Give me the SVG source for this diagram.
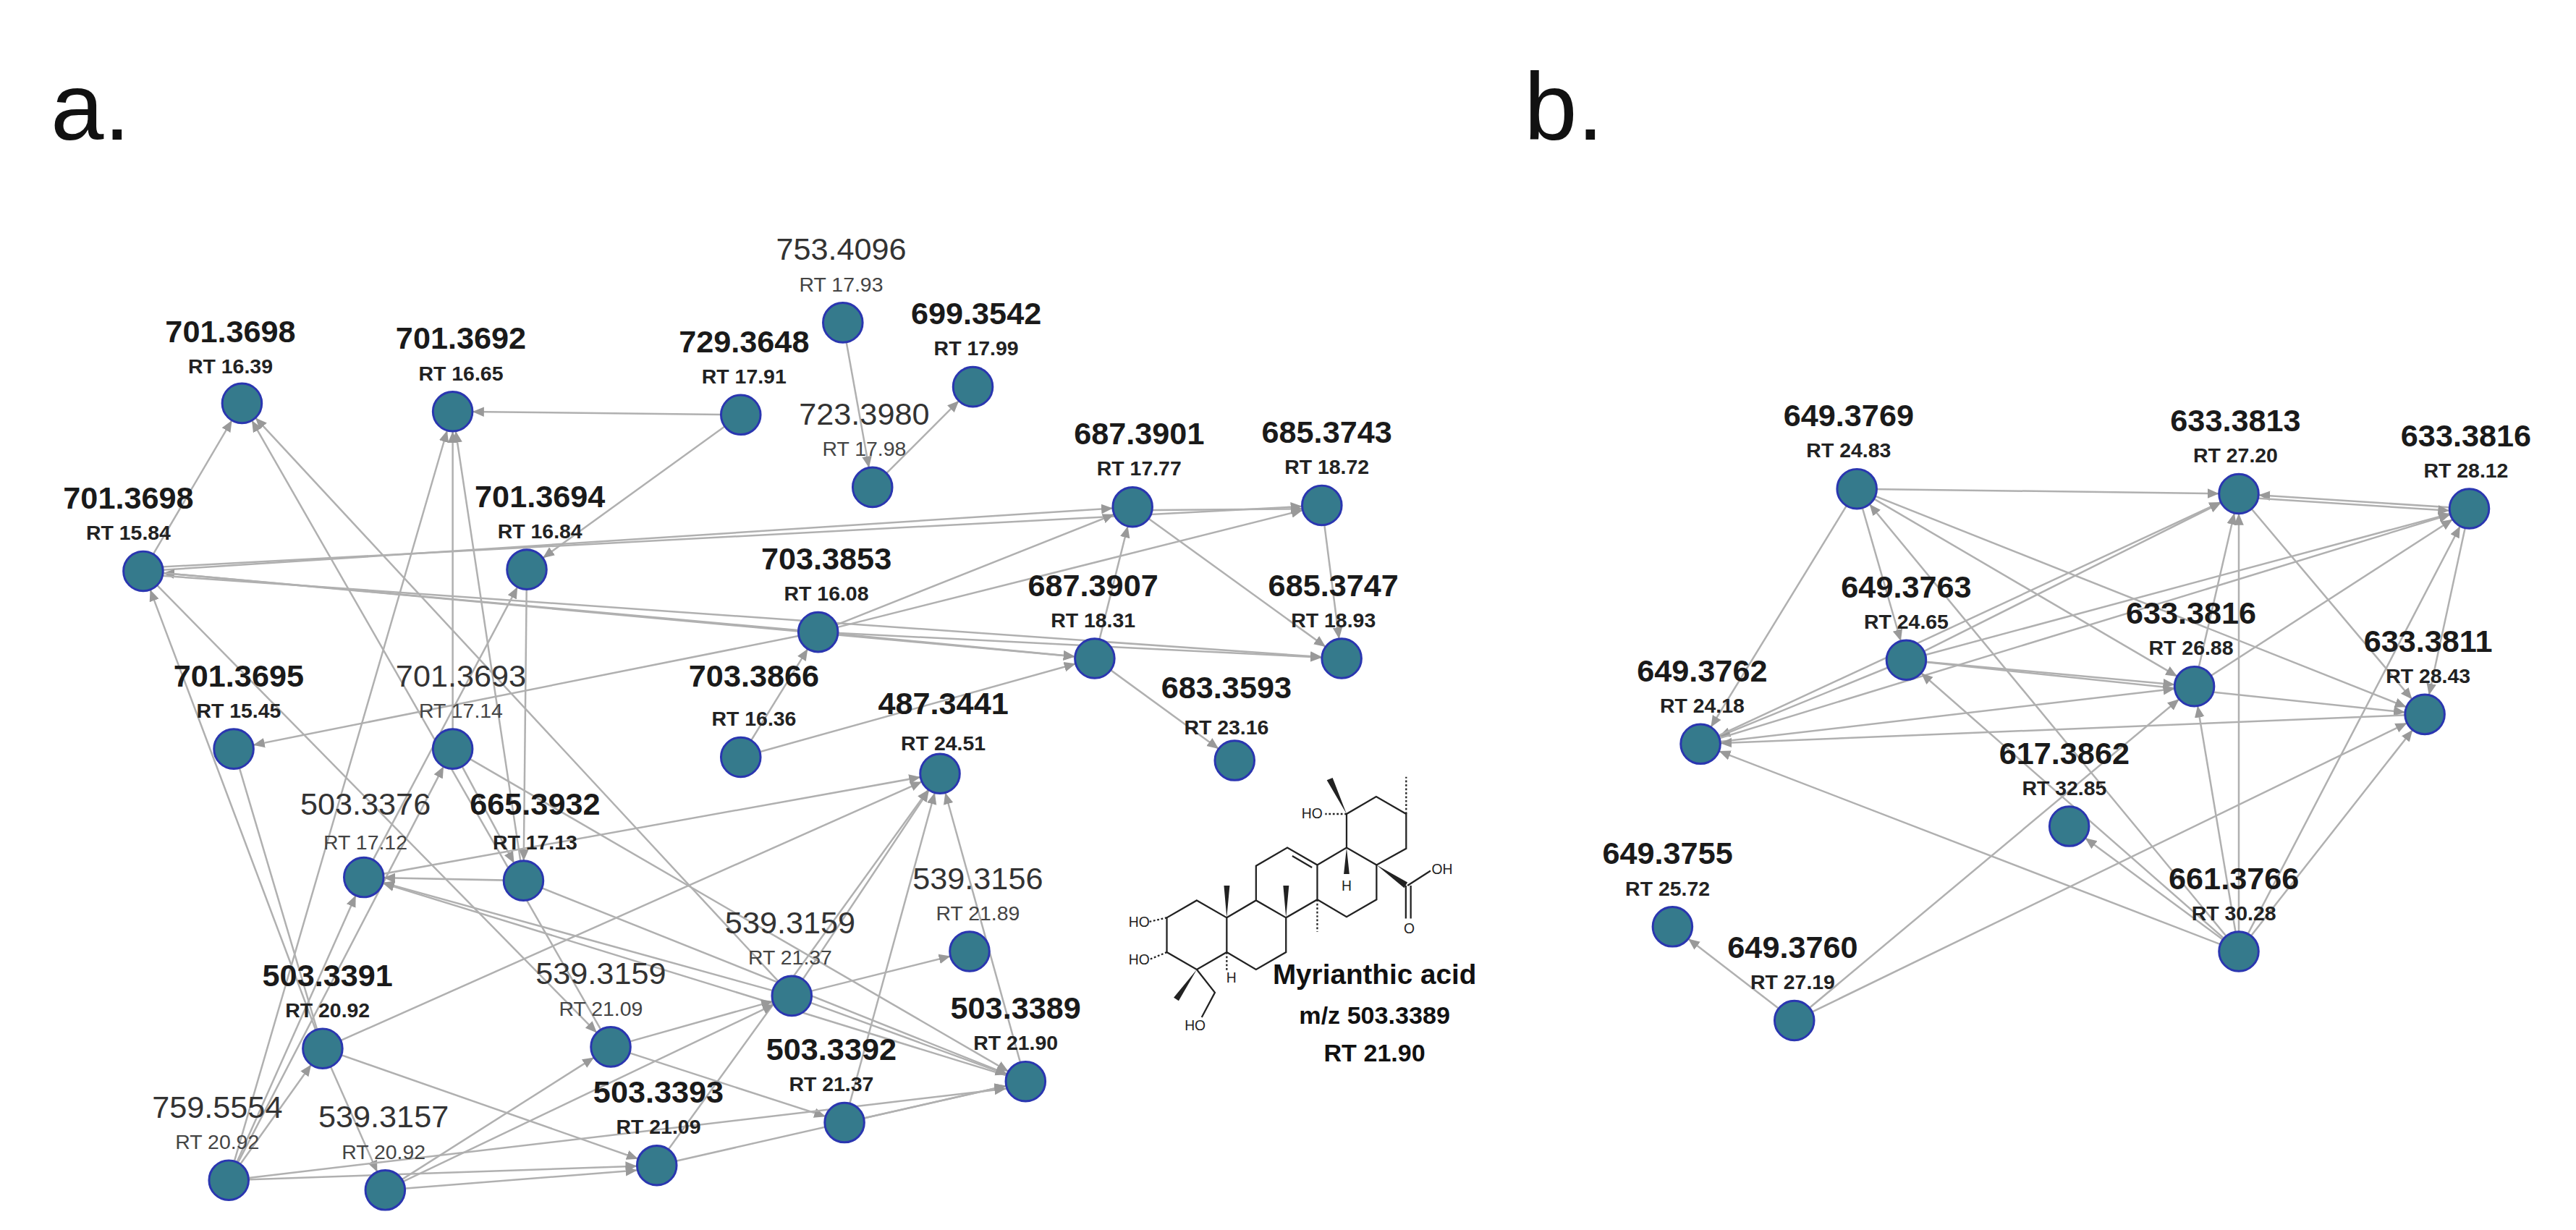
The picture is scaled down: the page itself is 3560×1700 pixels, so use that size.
<svg xmlns="http://www.w3.org/2000/svg" width="3560" height="1700" viewBox="0 0 3560 1700">
<style>
text{font-family:"Liberation Sans",Arial,sans-serif;text-anchor:middle}
.m{font-size:19px;font-weight:bold;fill:#1a1a1a}
.mr{font-size:19px;fill:#333}
.rt{font-size:12.5px;font-weight:bold;fill:#222}
.rtr{font-size:12.5px;fill:#444}
.n{fill:#357a8c;stroke:#2a36b0;stroke-width:1.3}
.e line{stroke:#b0b0b0;stroke-width:1.1;marker-end:url(#ah)}
.e line.p{marker-end:none}
.t{font-size:58px;fill:#111}
.mol{stroke:#222;stroke-width:1;fill:none}
.atom{font-size:8.5px;fill:#222}
.cap{font-size:17px;font-weight:bold;fill:#111}
</style>
<defs>
<marker id="ah" viewBox="0 0 20 10" refX="19" refY="5" markerWidth="20" markerHeight="10" markerUnits="userSpaceOnUse" orient="auto">
<path d="M0,2 L7,5 L0,8 z" fill="#999"/>
</marker>
</defs>
<rect width="3560" height="1700" fill="#fff"/>
<g transform="scale(2.275)">
<text class="t" x="55" y="85">a.</text>
<text class="t" x="950" y="85">b.</text>
<g class="e" id="connectors">
<line x1="450" y1="252" x2="275" y2="250"/>
<line x1="450" y1="252" x2="320" y2="346"/>
<line x1="512" y1="196" x2="530" y2="296"/>
<line x1="530" y1="296" x2="591" y2="235"/>
<line x1="87" y1="347" x2="147" y2="245"/>
<line x1="87" y1="347" x2="688" y2="308"/>
<line x1="87" y1="345" x2="803" y2="307"/>
<line x1="497" y1="384" x2="87" y2="347"/>
<line x1="87" y1="347" x2="665" y2="400"/>
<line x1="87" y1="349" x2="815" y2="400"/>
<line x1="481" y1="605" x2="147" y2="245"/>
<line x1="371" y1="636" x2="147" y2="245"/>
<line x1="275" y1="455" x2="275" y2="250"/>
<line x1="318" y1="535" x2="275" y2="250"/>
<line x1="139" y1="717" x2="275" y2="250"/>
<line x1="275" y1="455" x2="318" y2="535"/>
<line x1="320" y1="346" x2="318" y2="535"/>
<line x1="221" y1="533" x2="320" y2="346"/>
<line x1="139" y1="717" x2="275" y2="455"/>
<line x1="497" y1="384" x2="142" y2="455"/>
<line x1="196" y1="637" x2="87" y2="347"/>
<line x1="87" y1="347" x2="371" y2="636"/>
<line class="p" x1="142" y1="455" x2="196" y2="637"/>
<line x1="450" y1="460" x2="497" y2="384"/>
<line x1="497" y1="384" x2="688" y2="308"/>
<line x1="497" y1="384" x2="803" y2="307"/>
<line x1="497" y1="384" x2="665" y2="400"/>
<line x1="497" y1="384" x2="815" y2="400"/>
<line x1="665" y1="400" x2="688" y2="308"/>
<line x1="688" y1="308" x2="815" y2="400"/>
<line x1="803" y1="307" x2="815" y2="400"/>
<line x1="688" y1="310" x2="803" y2="309"/>
<line x1="665" y1="400" x2="750" y2="462"/>
<line x1="450" y1="460" x2="665" y2="400"/>
<line x1="221" y1="533" x2="571" y2="470"/>
<line x1="196" y1="637" x2="571" y2="470"/>
<line x1="481" y1="605" x2="571" y2="470"/>
<line x1="513" y1="682" x2="571" y2="470"/>
<line x1="399" y1="708" x2="571" y2="470"/>
<line x1="623" y1="657" x2="571" y2="470"/>
<line x1="318" y1="535" x2="221" y2="533"/>
<line x1="481" y1="605" x2="221" y2="533"/>
<line x1="623" y1="657" x2="221" y2="533"/>
<line x1="139" y1="717" x2="221" y2="533"/>
<line x1="318" y1="535" x2="623" y2="657"/>
<line x1="275" y1="455" x2="623" y2="657"/>
<line x1="481" y1="605" x2="589" y2="578"/>
<line x1="481" y1="605" x2="623" y2="657"/>
<line x1="371" y1="636" x2="481" y2="605"/>
<line x1="234" y1="723" x2="481" y2="605"/>
<line x1="234" y1="723" x2="371" y2="636"/>
<line x1="196" y1="637" x2="399" y2="708"/>
<line x1="139" y1="717" x2="196" y2="637"/>
<line x1="139" y1="717" x2="399" y2="708"/>
<line x1="234" y1="723" x2="399" y2="710"/>
<line x1="196" y1="637" x2="234" y2="723"/>
<line x1="399" y1="708" x2="623" y2="657"/>
<line x1="513" y1="682" x2="623" y2="657"/>
<line x1="371" y1="636" x2="513" y2="682"/>
<line x1="139" y1="717" x2="623" y2="660"/>
<line x1="1128" y1="297" x2="1360" y2="300"/>
<line x1="1500" y1="309" x2="1360" y2="300"/>
<line x1="1360" y1="302" x2="1500" y2="311"/>
<line x1="1128" y1="297" x2="1033" y2="452"/>
<line x1="1128" y1="297" x2="1158" y2="401"/>
<line x1="1128" y1="297" x2="1333" y2="417"/>
<line x1="1128" y1="297" x2="1473" y2="434"/>
<line x1="1360" y1="578" x2="1128" y2="297"/>
<line x1="1158" y1="401" x2="1360" y2="300"/>
<line x1="1158" y1="401" x2="1500" y2="309"/>
<line x1="1158" y1="401" x2="1333" y2="417"/>
<line x1="1158" y1="401" x2="1473" y2="434"/>
<line x1="1158" y1="401" x2="1033" y2="452"/>
<line x1="1033" y1="452" x2="1360" y2="300"/>
<line x1="1033" y1="452" x2="1500" y2="309"/>
<line x1="1033" y1="452" x2="1333" y2="417"/>
<line x1="1473" y1="434" x2="1033" y2="452"/>
<line x1="1333" y1="417" x2="1500" y2="309"/>
<line x1="1333" y1="417" x2="1360" y2="300"/>
<line x1="1360" y1="300" x2="1473" y2="434"/>
<line x1="1500" y1="309" x2="1473" y2="434"/>
<line x1="1360" y1="578" x2="1158" y2="401"/>
<line x1="1090" y1="620" x2="1016" y2="563"/>
<line x1="1090" y1="620" x2="1333" y2="417"/>
<line x1="1090" y1="620" x2="1473" y2="434"/>
<line x1="1360" y1="578" x2="1033" y2="452"/>
<line x1="1360" y1="578" x2="1257" y2="502"/>
<line x1="1360" y1="578" x2="1360" y2="300"/>
<line x1="1360" y1="578" x2="1333" y2="417"/>
<line x1="1360" y1="578" x2="1500" y2="309"/>
<line x1="1360" y1="578" x2="1473" y2="434"/>
</g>
<g id="n1"><circle class="n" cx="147" cy="245" r="12"/><text class="m" x="140" y="208">701.3698</text><text class="rt" x="140" y="227">RT 16.39</text></g>
<g id="n2"><circle class="n" cx="275" cy="250" r="12"/><text class="m" x="280" y="212">701.3692</text><text class="rt" x="280" y="231">RT 16.65</text></g>
<g id="n3"><circle class="n" cx="450" cy="252" r="12"/><text class="m" x="452" y="214">729.3648</text><text class="rt" x="452" y="233">RT 17.91</text></g>
<g id="n4"><circle class="n" cx="512" cy="196" r="12"/><text class="mr" x="511" y="158">753.4096</text><text class="rtr" x="511" y="177">RT 17.93</text></g>
<g id="n5"><circle class="n" cx="591" cy="235" r="12"/><text class="m" x="593" y="197">699.3542</text><text class="rt" x="593" y="216">RT 17.99</text></g>
<g id="n6"><circle class="n" cx="530" cy="296" r="12"/><text class="mr" x="525" y="258">723.3980</text><text class="rtr" x="525" y="277">RT 17.98</text></g>
<g id="n7"><circle class="n" cx="87" cy="347" r="12"/><text class="m" x="78" y="309">701.3698</text><text class="rt" x="78" y="328">RT 15.84</text></g>
<g id="n8"><circle class="n" cx="320" cy="346" r="12"/><text class="m" x="328" y="308">701.3694</text><text class="rt" x="328" y="327">RT 16.84</text></g>
<g id="n9"><circle class="n" cx="688" cy="308" r="12"/><text class="m" x="692" y="270">687.3901</text><text class="rt" x="692" y="289">RT 17.77</text></g>
<g id="n10"><circle class="n" cx="803" cy="307" r="12"/><text class="m" x="806" y="269">685.3743</text><text class="rt" x="806" y="288">RT 18.72</text></g>
<g id="n11"><circle class="n" cx="497" cy="384" r="12"/><text class="m" x="502" y="346">703.3853</text><text class="rt" x="502" y="365">RT 16.08</text></g>
<g id="n12"><circle class="n" cx="665" cy="400" r="12"/><text class="m" x="664" y="362">687.3907</text><text class="rt" x="664" y="381">RT 18.31</text></g>
<g id="n13"><circle class="n" cx="815" cy="400" r="12"/><text class="m" x="810" y="362">685.3747</text><text class="rt" x="810" y="381">RT 18.93</text></g>
<g id="n14"><circle class="n" cx="142" cy="455" r="12"/><text class="m" x="145" y="417">701.3695</text><text class="rt" x="145" y="436">RT 15.45</text></g>
<g id="n15"><circle class="n" cx="275" cy="455" r="12"/><text class="mr" x="280" y="417">701.3693</text><text class="rtr" x="280" y="436">RT 17.14</text></g>
<g id="n16"><circle class="n" cx="450" cy="460" r="12"/><text class="m" x="458" y="417">703.3866</text><text class="rt" x="458" y="441">RT 16.36</text></g>
<g id="n17"><circle class="n" cx="571" cy="470" r="12"/><text class="m" x="573" y="434">487.3441</text><text class="rt" x="573" y="456">RT 24.51</text></g>
<g id="n18"><circle class="n" cx="750" cy="462" r="12"/><text class="m" x="745" y="424">683.3593</text><text class="rt" x="745" y="446">RT 23.16</text></g>
<g id="n19"><circle class="n" cx="221" cy="533" r="12"/><text class="mr" x="222" y="495">503.3376</text><text class="rtr" x="222" y="516">RT 17.12</text></g>
<g id="n20"><circle class="n" cx="318" cy="535" r="12"/><text class="m" x="325" y="495">665.3932</text><text class="rt" x="325" y="516">RT 17.13</text></g>
<g id="n21"><circle class="n" cx="589" cy="578" r="12"/><text class="mr" x="594" y="540">539.3156</text><text class="rtr" x="594" y="559">RT 21.89</text></g>
<g id="n22"><circle class="n" cx="481" cy="605" r="12"/><text class="mr" x="480" y="567">539.3159</text><text class="rtr" x="480" y="586">RT 21.37</text></g>
<g id="n23"><circle class="n" cx="196" cy="637" r="12"/><text class="m" x="199" y="599">503.3391</text><text class="rt" x="199" y="618">RT 20.92</text></g>
<g id="n24"><circle class="n" cx="371" cy="636" r="12"/><text class="mr" x="365" y="598">539.3159</text><text class="rtr" x="365" y="617">RT 21.09</text></g>
<g id="n25"><circle class="n" cx="623" cy="657" r="12"/><text class="m" x="617" y="619">503.3389</text><text class="rt" x="617" y="638">RT 21.90</text></g>
<g id="n26"><circle class="n" cx="513" cy="682" r="12"/><text class="m" x="505" y="644">503.3392</text><text class="rt" x="505" y="663">RT 21.37</text></g>
<g id="n27"><circle class="n" cx="139" cy="717" r="12"/><text class="mr" x="132" y="679">759.5554</text><text class="rtr" x="132" y="698">RT 20.92</text></g>
<g id="n28"><circle class="n" cx="234" cy="723" r="12"/><text class="mr" x="233" y="685">539.3157</text><text class="rtr" x="233" y="704">RT 20.92</text></g>
<g id="n29"><circle class="n" cx="399" cy="708" r="12"/><text class="m" x="400" y="670">503.3393</text><text class="rt" x="400" y="689">RT 21.09</text></g>
<g id="b1"><circle class="n" cx="1128" cy="297" r="12"/><text class="m" x="1123" y="259">649.3769</text><text class="rt" x="1123" y="278">RT 24.83</text></g>
<g id="b2"><circle class="n" cx="1360" cy="300" r="12"/><text class="m" x="1358" y="262">633.3813</text><text class="rt" x="1358" y="281">RT 27.20</text></g>
<g id="b3"><circle class="n" cx="1500" cy="309" r="12"/><text class="m" x="1498" y="271">633.3816</text><text class="rt" x="1498" y="290">RT 28.12</text></g>
<g id="b4"><circle class="n" cx="1158" cy="401" r="12"/><text class="m" x="1158" y="363">649.3763</text><text class="rt" x="1158" y="382">RT 24.65</text></g>
<g id="b5"><circle class="n" cx="1333" cy="417" r="12"/><text class="m" x="1331" y="379">633.3816</text><text class="rt" x="1331" y="398">RT 26.88</text></g>
<g id="b6"><circle class="n" cx="1473" cy="434" r="12"/><text class="m" x="1475" y="396">633.3811</text><text class="rt" x="1475" y="415">RT 28.43</text></g>
<g id="b7"><circle class="n" cx="1033" cy="452" r="12"/><text class="m" x="1034" y="414">649.3762</text><text class="rt" x="1034" y="433">RT 24.18</text></g>
<g id="b8"><circle class="n" cx="1257" cy="502" r="12"/><text class="m" x="1254" y="464">617.3862</text><text class="rt" x="1254" y="483">RT 32.85</text></g>
<g id="b9"><circle class="n" cx="1016" cy="563" r="12"/><text class="m" x="1013" y="525">649.3755</text><text class="rt" x="1013" y="544">RT 25.72</text></g>
<g id="b10"><circle class="n" cx="1360" cy="578" r="12"/><text class="m" x="1357" y="540">661.3766</text><text class="rt" x="1357" y="559">RT 30.28</text></g>
<g id="b11"><circle class="n" cx="1090" cy="620" r="12"/><text class="m" x="1089" y="582">649.3760</text><text class="rt" x="1089" y="601">RT 27.19</text></g>
<g id="molecule">
<path class="mol" d="M727,547 L745.2,557.5 L745.2,578.5 L727,589 L708.8,578.5 L708.8,557.5 Z M745.2,557.5 L763,547 L781.2,557.5 L781.2,578.5 L763,589 L745.2,578.5 M763,547 L763,526 L782,515 L800.2,525.5 L800.2,546.5 L781.2,557.5 M800.2,525.5 L818,515 L836.2,525.5 L836.2,546.5 L818,557 L800.2,546.5 M818,515 L818,494.5 L836,484 L854.2,494.5 L854.2,515.5 L836.2,525.5"/>
<path class="mol" d="M785,520 L797,527"/>
<path fill="#222" d="M745.2,557.5 L743.5,538 L747,538 Z M781.2,557.5 L779.5,538 L783,538 Z M818,494.5 L806,474 L809.5,472.5 Z M836.2,525.5 L855,536 L853,539.5 Z M818,515 L816.3,531 L819.7,531 Z M727,589 L713,606 L716,608 Z"/>
<path class="mol" stroke-dasharray="1.2,1.2" stroke-width="2.5" d="M800.2,546.5 L800.2,566 M818,494.5 L805,494.5 M854.2,494.5 L854.2,472 M708.8,557.5 L698,560 M708.8,578.5 L698,583 M745.2,578.5 L745.2,590"/>
<path class="mol" d="M854,538 L854,558 M857,538 L857,558 M855,538 L869,529 M727,589 L738,603 L730,618"/>
<text class="atom" x="692" y="563">HO</text>
<text class="atom" x="692" y="586">HO</text>
<text class="atom" x="726" y="626">HO</text>
<text class="atom" x="797" y="497">HO</text>
<text class="atom" x="876" y="531">OH</text>
<text class="atom" x="856" y="567">O</text>
<text class="atom" x="818" y="541">H</text>
<text class="atom" x="748" y="597">H</text>
<text class="cap" x="835" y="598">Myrianthic acid</text>
<text class="cap" x="835" y="622" style="font-size:15px">m/z 503.3389</text>
<text class="cap" x="835" y="645" style="font-size:15px">RT 21.90</text>
</g>
</g>
</svg>
